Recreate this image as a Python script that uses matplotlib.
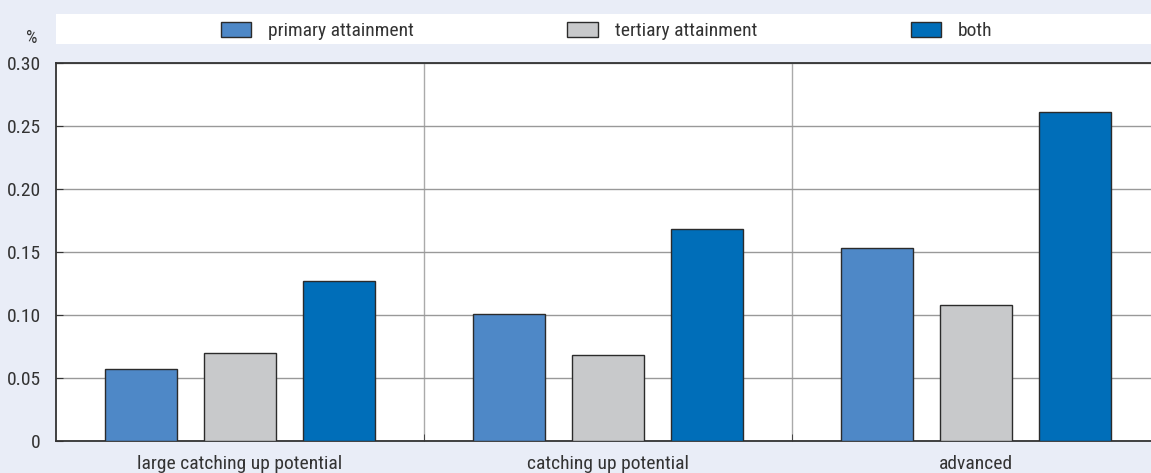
# -*- coding: utf-8 -*-

import matplotlib
matplotlib.use("Agg")
import matplotlib.pyplot as plt
from matplotlib.patches import Patch
import numpy as np

# Data
groups = ["large catching up potential", "catching up potential", "advanced"]
series = ["primary attainment", "tertiary attainment", "both"]
primary = [0.057, 0.101, 0.153]
tertiary = [0.070, 0.068, 0.108]
both = [0.127, 0.168, 0.261]
yticks = [0, 0.05, 0.10, 0.15, 0.20, 0.25, 0.30]
ytick_labels = ["0", "0.05", "0.10", "0.15", "0.20", "0.25", "0.30"]

colors = ["#4e88c7", "#c8c9cb", "#006eb9"]
bg = "#e9edf7"
txt = "#333333"

plt.rcParams["font.family"] = ["Roboto Condensed", "Archivo Narrow",
                               "Liberation Sans Narrow", "DejaVu Sans"]
plt.rcParams["font.size"] = 14

W, H = 1151, 473
fig = plt.figure(figsize=(W / 100, H / 100), dpi=100, facecolor=bg)

# main axes: left 56px, bottom 441px, top 63px, right runs past the edge
left, right, top, bottom = 56, 1160, 63, 441
ax = fig.add_axes([left / W, 1 - bottom / H, (right - left) / W, (bottom - top) / H])
ax.set_facecolor("white")

x = np.arange(len(groups))
width = 0.193
step = 0.269
for i, (vals, c) in enumerate(zip([primary, tertiary, both], colors)):
    ax.bar(x + (i - 1) * step, vals, width, color=c, edgecolor="#2b2b2b",
           linewidth=1, zorder=3)

ax.set_xlim(-0.5, len(groups) - 0.5)
ax.set_ylim(0, 0.30)
ax.set_yticks(yticks)
ax.set_yticklabels(ytick_labels, color=txt)
ax.grid(axis="y", color="#999999", linewidth=1, zorder=0)
for sep in [0.5, 1.5]:
    ax.axvline(sep, color="#aaaaaa", linewidth=1, zorder=1)

ax.set_xticks(x)
ax.set_xticklabels(groups, color=txt)
ax.tick_params(axis="x", length=0, pad=10)
ax.set_xticks([0.5, 1.5], minor=True)
ax.tick_params(axis="x", which="minor", direction="in", length=5, color="#333333")
ax.tick_params(axis="y", direction="in", length=5, color="#333333", pad=11)

ax.spines["right"].set_visible(False)
for s in ["left", "bottom", "top"]:
    ax.spines[s].set_color("#333333")
    ax.spines[s].set_linewidth(1.3)

fig.text(32 / W, 1 - 38 / H, "%", ha="center", va="center", color=txt, fontsize=13)

# legend box
lax = fig.add_axes([56 / W, 1 - 44 / H, (W - 56) / W, 30 / H])
lax.set_facecolor("white")
lax.set_xticks([])
lax.set_yticks([])
for s in lax.spines.values():
    s.set_visible(False)
handles = [Patch(facecolor=c, edgecolor="#2b2b2b", linewidth=1) for c in colors]
leg = lax.legend(handles, series, ncol=3, loc="center", frameon=False,
                 handlelength=1.55, handleheight=0.82, handletextpad=0.88,
                 columnspacing=7.9, borderaxespad=0, fontsize=14,
                 bbox_to_anchor=(0.5 + 3 / (W - 56), 0.44))
for t in leg.get_texts():
    t.set_color(txt)

plt.savefig("out.png", dpi=100, facecolor=bg)
